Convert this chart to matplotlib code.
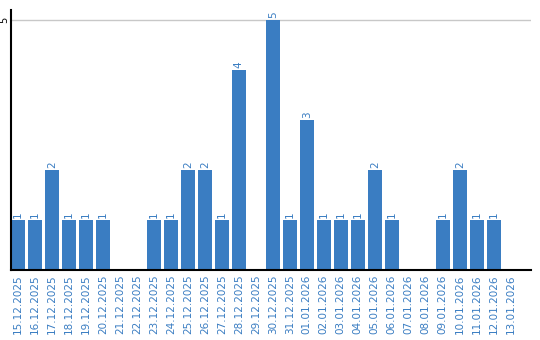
import matplotlib.pyplot as plt
import numpy as np

dates = ['15.12.2025', '16.12.2025', '17.12.2025', '18.12.2025', '19.12.2025',
         '20.12.2025', '21.12.2025', '22.12.2025', '23.12.2025', '24.12.2025',
         '25.12.2025', '26.12.2025', '27.12.2025', '28.12.2025', '29.12.2025',
         '30.12.2025', '31.12.2025', '01.01.2026', '02.01.2026', '03.01.2026',
         '04.01.2026', '05.01.2026', '06.01.2026', '07.01.2026', '08.01.2026',
         '09.01.2026', '10.01.2026', '11.01.2026', '12.01.2026', '13.01.2026']
counts = [1, 1, 2, 1, 1, 1, 0, 0, 1, 1, 2, 2, 1, 4, 0,
          5, 1, 3, 1, 1, 1, 2, 1, 0, 0, 1, 2, 1, 1, 0]

bar_color = '#3a7dc2'
text_color = '#3a7dc2'
width = 0.82

fig = plt.figure(figsize=(5.4, 3.4), dpi=100)
ax = fig.add_axes([11 / 540, 70 / 340, 520 / 540, 260 / 340])

x = np.arange(len(dates))
ax.bar(x, counts, width, align='edge', color=bar_color, zorder=2)

for xi, c in zip(x, counts):
    if c > 0:
        ax.text(xi + width / 2, c + 0.05, str(c), rotation=90, ha='center', va='bottom',
                fontsize=7.5, color=text_color)

ax.set_xlim(0, 30.6)
ax.set_ylim(0, 5.2)
ax.set_xticks(x + width / 2)
ax.set_xticklabels(dates, rotation=90, fontsize=7.5, color=text_color)
ax.set_yticks([5])
ax.set_yticklabels(['5'], rotation=90, va='center', fontsize=7)
ax.tick_params(axis='x', length=0, pad=3)
ax.tick_params(axis='y', length=0, pad=1)
ax.axhline(5, color='#c8c8c8', lw=1, zorder=1)

for s in ['top', 'right']:
    ax.spines[s].set_visible(False)
ax.spines['left'].set_linewidth(1.5)
ax.spines['bottom'].set_linewidth(1.5)

plt.savefig('out.png')
